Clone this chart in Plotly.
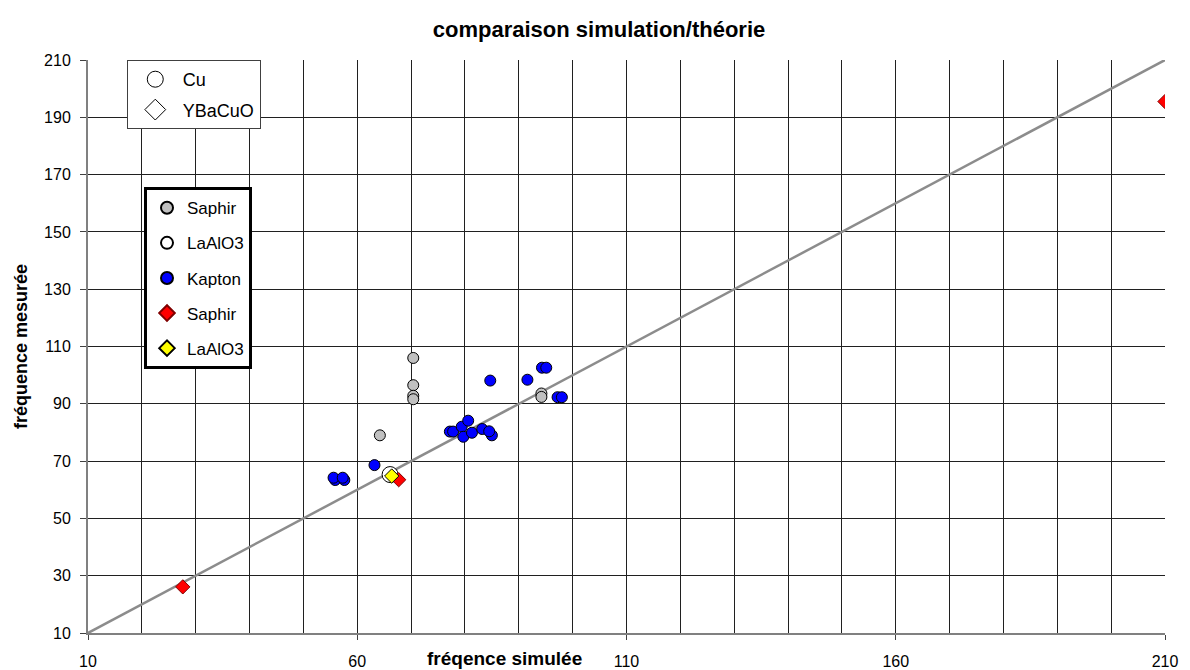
import plotly.graph_objects as go

FONT = "Liberation Sans, Arial, sans-serif"

# diagonal y = x
diag_x = [10, 210]
diag_y = [10, 210]

# Saphir (grey circles)
saphir_c_x = [70.4, 70.4, 70.4, 70.4, 64.2, 94.2, 94.2]
saphir_c_y = [106.0, 96.5, 92.8, 91.6, 79.0, 93.6, 92.4]

# LaAlO3 (white circle)
laalo3_c_x = [66.1]
laalo3_c_y = [65.3]

# Kapton (blue circles)
kapton_x = [55.9, 57.6, 55.6, 57.3, 63.2, 84.7, 91.6, 94.3, 95.1, 97.2, 98.0,
            77.2, 77.8, 79.4, 80.6, 79.7, 81.3, 83.2, 85.0, 84.5]
kapton_y = [63.4, 63.4, 64.2, 64.2, 68.6, 98.1, 98.4, 102.6, 102.6, 92.3, 92.3,
            80.3, 80.3, 82.0, 84.1, 78.5, 79.9, 81.2, 79.0, 80.4]

# Saphir (red diamonds)
saphir_d_x = [27.6, 67.7, 210.0]
saphir_d_y = [26.1, 63.5, 195.5]

# LaAlO3 (yellow diamond)
laalo3_d_x = [66.4]
laalo3_d_y = [64.8]

x_ticks = [10, 60, 110, 160, 210]
y_ticks = [10, 30, 50, 70, 90, 110, 130, 150, 170, 190, 210]

fig = go.Figure()

fig.add_trace(go.Scatter(x=diag_x, y=diag_y, mode="lines", showlegend=False,
                         line=dict(color="#8c8c8c", width=2.5), hoverinfo="skip"))

edge = dict(color="black", width=1)
fig.add_trace(go.Scatter(x=saphir_c_x, y=saphir_c_y, mode="markers", name="Saphir",
                         legend="legend2", legendgroup="a",
                         marker=dict(symbol="circle", size=11, color="#c0c0c0", line=edge)))
fig.add_trace(go.Scatter(x=laalo3_c_x, y=laalo3_c_y, mode="markers", name="LaAlO3",
                         legend="legend2", legendgroup="b",
                         marker=dict(symbol="circle", size=16, color="white", line=edge)))
fig.add_trace(go.Scatter(x=kapton_x, y=kapton_y, mode="markers", name="Kapton",
                         legend="legend2", legendgroup="c",
                         marker=dict(symbol="circle", size=11, color="#0000ff", line=edge)))
fig.add_trace(go.Scatter(x=saphir_d_x, y=saphir_d_y, mode="markers", name="Saphir",
                         legend="legend2", legendgroup="d",
                         marker=dict(symbol="diamond", size=11, color="#ff0000", line=dict(color="#800000", width=1))))
fig.add_trace(go.Scatter(x=laalo3_d_x, y=laalo3_d_y, mode="markers", name="LaAlO3",
                         legend="legend2", legendgroup="e",
                         marker=dict(symbol="diamond", size=11, color="#ffff00", line=edge)))

# shape key (legend only)
fig.add_trace(go.Scatter(x=[None], y=[None], mode="markers", name="Cu",
                         legend="legend", legendgroup="f",
                         marker=dict(symbol="circle", size=20, color="white", line=edge)))
fig.add_trace(go.Scatter(x=[None], y=[None], mode="markers", name="YBaCuO",
                         legend="legend", legendgroup="g",
                         marker=dict(symbol="diamond", size=20, color="white", line=edge)))

# page body has an 8px margin, so the figure is a bit smaller and shifted
fig.update_layout(
    width=1182, height=662,
    margin=dict(l=80, r=25, t=52, b=37),
    paper_bgcolor="white", plot_bgcolor="white",
    font=dict(family=FONT, size=15, color="black"),
    title=dict(text="<b>comparaison simulation/théorie</b>", x=0.5, xanchor="center",
               y=0.968, yanchor="middle", font=dict(size=22, family=FONT)),
    legend=dict(x=0.036, y=1.0, xanchor="left", yanchor="top", bgcolor="white",
                bordercolor="#404040", borderwidth=1, font=dict(size=18),
                itemsizing="trace", itemwidth=45, tracegroupgap=4),
    legend2=dict(x=0.052, y=0.778, xanchor="left", yanchor="top", bgcolor="white",
                 bordercolor="black", borderwidth=3, font=dict(size=17),
                 itemsizing="constant", tracegroupgap=10),
    annotations=[dict(text="<b>fréqence simulée</b>", xref="paper", yref="paper",
                      x=0.387, y=-0.022, xanchor="center", yanchor="top",
                      showarrow=False, font=dict(size=19, family=FONT))],
)

fig.update_xaxes(range=[10, 210], tickvals=x_ticks, ticktext=[str(v) for v in x_ticks],
                 automargin=False,
                 showgrid=True, gridcolor="#202020", gridwidth=1,
                 minor=dict(dtick=10, tick0=10, showgrid=True, gridcolor="#202020", gridwidth=1),
                 showline=True, linecolor="#808080", linewidth=2, zeroline=False,
                 ticks="outside", ticklen=5, tickcolor="#404040", ticklabelstandoff=8,
                 tickfont=dict(size=16))
fig.update_yaxes(range=[10, 210], tickvals=y_ticks, ticktext=[str(v) for v in y_ticks],
                 automargin=False,
                 showgrid=True, gridcolor="#202020", gridwidth=1,
                 showline=True, linecolor="#808080", linewidth=2, zeroline=False,
                 ticks="outside", ticklen=6, tickcolor="#404040", ticklabelstandoff=6,
                 title=dict(text="<b>fréquence mesurée</b>", font=dict(size=18, family=FONT), standoff=12),
                 tickfont=dict(size=16))

fig.write_html("out.html")
